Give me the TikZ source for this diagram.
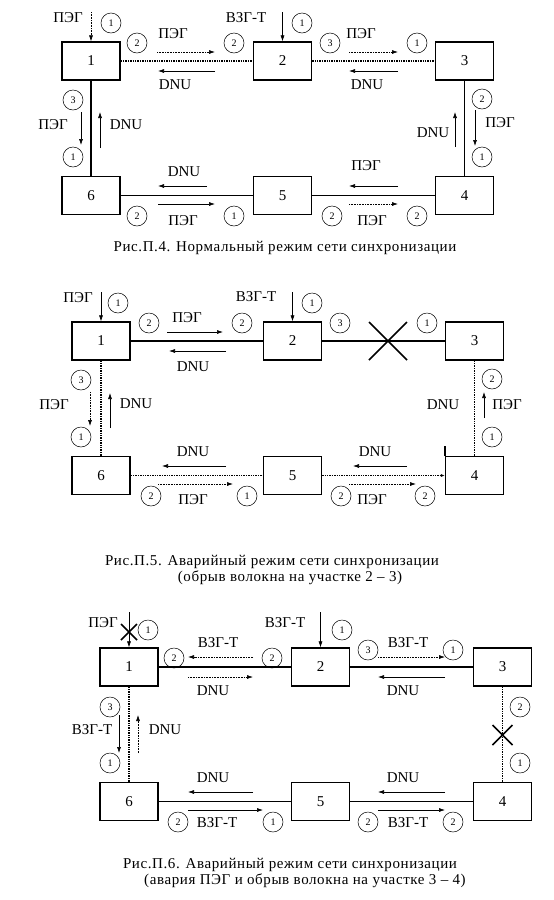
\documentclass[tikz,border=0pt]{standalone}
\usepackage{fontspec}
\setmainfont{Liberation Serif}
\usetikzlibrary{arrows.meta}
\tikzset{
  stn/.style={draw, line width=1.2pt, minimum width=58pt, minimum height=38pt, inner sep=0pt, font=\fontsize{15}{18}\selectfont},
  link/.style={line width=1.4pt},
  linkdot/.style={line width=1.4pt, densely dotted},
  sig/.style={-{Latex[length=6pt,width=4pt]}, line width=0.6pt},
  sigdot/.style={sig, densely dotted},
  num/.style={draw, circle, line width=0.5pt, minimum size=20pt, inner sep=0pt, font=\fontsize{10}{12}\selectfont},
  lbl/.style={inner sep=0pt, font=\fontsize{15}{18}\selectfont},
  figcap/.style={inner sep=0pt, font=\fontsize{15}{17}\selectfont\addfontfeature{LetterSpace=4}},
  brk/.style={line width=1.5pt}
}
\newcommand{\stations}[1]{
  \node[stn] (#11) at (91,61) {1};
  \node[stn] (#12) at (282.5,61) {2};
  \node[stn] (#13) at (464.5,61) {3};
  \node[stn] (#14) at (464.5,195.5) {4};
  \node[stn] (#15) at (282.5,195.5) {5};
  \node[stn] (#16) at (91,195.5) {6};
}
\newcommand{\circnum}[3]{\node[num] (#1) at (#2) {#3};}
\newcommand{\brkmark}[2]{\draw[brk] (#1) ++(-#2,-#2) -- ++(2*#2,2*#2) ++(0,-2*#2) -- ++(-2*#2,2*#2);}

\begin{document}
\begin{tikzpicture}[x=1pt, y=-1pt]
\useasboundingbox (0,0) rectangle (554,900);

\stations{A}
\draw[linkdot] (A1) -- (A2);
\draw[linkdot] (A2) -- (A3);
\draw[link] (A3) -- (A4);
\draw[link] (A1) -- (A6);
\draw[link] (A6) -- (A5);
\draw[link] (A5) -- (A4);
\node[lbl] (At1) at (68,18) {ПЭГ};
\draw[sigdot] (91,12) -- (A1.north);
\circnum{An1}{111,23}{1}
\node[lbl] (At2) at (246,18) {ВЗГ-Т};
\draw[sig] (282.5,12) -- (A2.north);
\circnum{An2}{302,23}{1}
\circnum{An3}{137,43}{2}
\node[lbl] (At3) at (173,34) {ПЭГ};
\draw[sigdot] (157,52) -- (215,52);
\circnum{An4}{234,43}{2}
\draw[sig] (215,71) -- (158,71);
\node[lbl] (At4) at (175,85) {DNU};
\circnum{An5}{330,43}{3}
\node[lbl] (At5) at (361,34) {ПЭГ};
\draw[sigdot] (349,52) -- (398,52);
\circnum{An6}{417,43}{1}
\draw[sig] (398,71) -- (349,71);
\node[lbl] (At6) at (367,85) {DNU};
\circnum{An7}{482,99}{2}
\draw[sig] (475,110) -- (475,146);
\node[lbl] (At7) at (500,123) {ПЭГ};
\circnum{An8}{482,157}{1}
\draw[sig] (455,147) -- (455,112);
\node[lbl] (At8) at (433,133) {DNU};
\circnum{An9}{73,100}{3}
\node[lbl] (At9) at (53,125) {ПЭГ};
\draw[sig] (81,112) -- (81,145);
\circnum{An10}{73,157}{1}
\draw[sig] (100,148) -- (100,112);
\node[lbl] (At10) at (126,125) {DNU};
\node[lbl] (At11) at (184,172) {DNU};
\draw[sig] (207,186) -- (158,186);
\draw[sig] (158,204) -- (215,204);
\circnum{An11}{137,216}{2}
\node[lbl] (At12) at (183,221) {ПЭГ};
\circnum{An12}{234,216}{1}
\node[lbl] (At13) at (366,166) {ПЭГ};
\draw[sig] (398,186) -- (349,186);
\draw[sigdot] (349,204) -- (398,204);
\circnum{An13}{332,216}{2}
\node[lbl] (At14) at (372,221) {ПЭГ};
\circnum{An14}{417,216}{2}
\node[figcap] (Acap) at (285,248) {Рис.П.4. Нормальный режим сети синхронизации};

\begin{scope}[shift={(10,280)}]
\stations{B}
\draw[link] (B1) -- (B2);
\draw[link] (B2) -- (B3);
\draw[linkdot] (B3) -- (B4);
\draw[linkdot] (B1) -- (B6);
\draw[linkdot] (B6) -- (B5);
\draw[linkdot, -{Latex[length=4pt,width=3pt]}] (B5) -- (B4);
\draw[link] (B4.north west) -- ++(0,-10);
\node[lbl] (Bt1) at (68,18) {ПЭГ};
\draw[sig] (91,12) -- (B1.north);
\circnum{Bn1}{108,23}{1}
\node[lbl] (Bt2) at (246,17) {ВЗГ-Т};
\draw[sig] (282.5,12) -- (B2.north);
\circnum{Bn2}{302,23}{1}
\circnum{Bn3}{139,43}{2}
\node[lbl] (Bt3) at (177,38) {ПЭГ};
\draw[sig] (157,52) -- (213,52);
\circnum{Bn4}{232,43}{2}
\draw[sig] (216,71) -- (159,71);
\node[lbl] (Bt4) at (183,87) {DNU};
\circnum{Bn5}{330,43}{3}
\brkmark{378,61}{19}
\circnum{Bn6}{417,43}{1}
\circnum{Bn7}{482,99}{2}
\draw[sig] (474,138) -- (474,112);
\node[lbl] (Bt5) at (497,125) {ПЭГ};
\node[lbl] (Bt6) at (433,125) {DNU};
\circnum{Bn8}{482,157}{1}
\circnum{Bn9}{71,100}{3}
\node[lbl] (Bt7) at (44,125) {ПЭГ};
\draw[sigdot] (80,112) -- (80,146);
\circnum{Bn10}{71,157}{1}
\draw[sig] (100,148) -- (100,113);
\node[lbl] (Bt8) at (126,124) {DNU};
\node[lbl] (Bt9) at (183,172) {DNU};
\draw[sig] (216,186) -- (152,186);
\draw[sigdot] (148,204) -- (223,204);
\circnum{Bn11}{141,216}{2}
\node[lbl] (Bt10) at (183,220) {ПЭГ};
\circnum{Bn12}{237,216}{1}
\node[lbl] (Bt11) at (365,172) {DNU};
\draw[sig] (397,186) -- (343,186);
\draw[sigdot] (339,204) -- (406,204);
\circnum{Bn13}{331,216}{2}
\node[lbl] (Bt12) at (362,220) {ПЭГ};
\circnum{Bn14}{415,216}{2}
\node[figcap] (Bcap1) at (262,282) {Рис.П.5. Аварийный режим сети синхронизации};
\node[figcap] (Bcap2) at (280,298) {(обрыв волокна на участке 2 – 3)};
\end{scope}

\begin{scope}[shift={(38,606)}]
\stations{C}
\draw[link] (C1) -- (C2);
\draw[link] (C2) -- (C3);
\draw[linkdot] (C3) -- (C4);
\draw[linkdot] (C1) -- (C6);
\draw[link] (C6) -- (C5);
\draw[link] (C5) -- (C4);
\node[lbl] (Ct1) at (65,17) {ПЭГ};
\draw[sig] (91,6) -- (C1.north);
\brkmark{91,26}{8}
\circnum{Cn1}{110,24}{1}
\node[lbl] (Ct2) at (247,17) {ВЗГ-Т};
\draw[sig] (282.5,6) -- (C2.north);
\circnum{Cn2}{304,24}{1}
\circnum{Cn3}{136,52}{2}
\node[lbl] (Ct3) at (180,37) {ВЗГ-Т};
\draw[sigdot] (215,51) -- (150,51);
\circnum{Cn4}{234,52}{2}
\draw[sigdot] (150,71) -- (215,71);
\node[lbl] (Ct4) at (175,85) {DNU};
\circnum{Cn5}{330,44}{3}
\node[lbl] (Ct5) at (370,37) {ВЗГ-Т};
\draw[sigdot] (340,51) -- (407,51);
\circnum{Cn6}{415,44}{1}
\draw[sig] (407,71) -- (340,71);
\node[lbl] (Ct6) at (365,85) {DNU};
\circnum{Cn7}{482,101}{2}
\brkmark{464.5,129}{10}
\circnum{Cn8}{482,157}{1}
\circnum{Cn9}{72,101}{3}
\node[lbl] (Ct7) at (54,124) {ВЗГ-Т};
\draw[sig] (81,109) -- (81,147);
\circnum{Cn10}{72,157}{1}
\draw[sigdot] (100,147) -- (100,109);
\node[lbl] (Ct8) at (127,124) {DNU};
\node[lbl] (Ct9) at (175,172) {DNU};
\draw[sig] (215,186) -- (150,186);
\draw[sig] (150,204) -- (225,204);
\circnum{Cn11}{140,216}{2}
\node[lbl] (Ct10) at (179,217) {ВЗГ-Т};
\circnum{Cn12}{235,216}{1}
\node[lbl] (Ct11) at (365,172) {DNU};
\draw[sig] (407,186) -- (340,186);
\draw[sig] (340,204) -- (407,204);
\circnum{Cn13}{330,216}{2}
\node[lbl] (Ct12) at (370,217) {ВЗГ-Т};
\circnum{Cn14}{415,216}{2}
\node[figcap] (Ccap1) at (252,259) {Рис.П.6. Аварийный режим сети синхронизации};
\node[figcap] (Ccap2) at (267,275) {(авария ПЭГ и обрыв волокна на участке 3 – 4)};
\end{scope}
\end{tikzpicture}
\end{document}
